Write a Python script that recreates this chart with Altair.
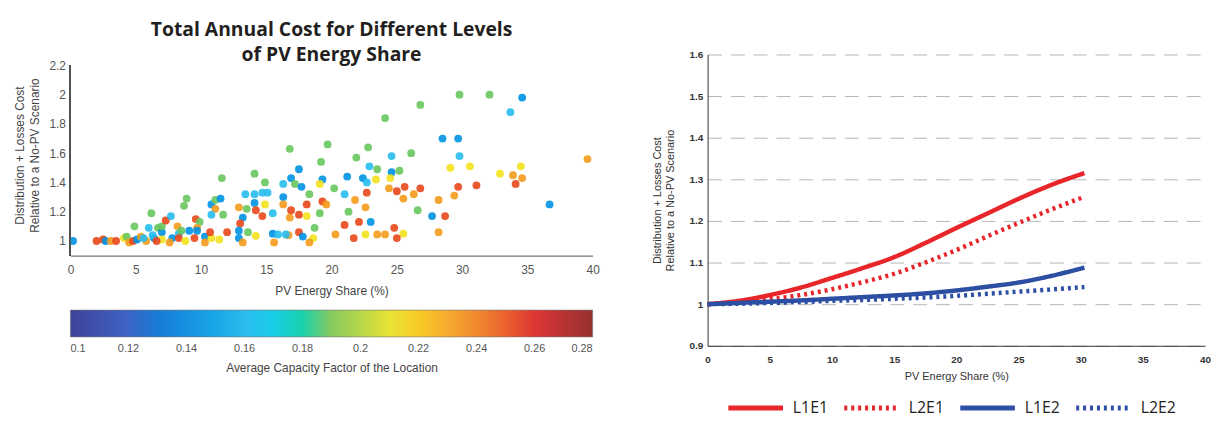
import altair as alt
import pandas as pd

# ---------------- Left panel: scatter (PV share vs. cost ratio, coloured by capacity factor)
B, C, G, Y, O, R = 0.145, 0.163, 0.188, 0.212, 0.232, 0.252

pv_share = [
    0.2, 2.0, 2.5, 2.7, 3.1, 3.5, 4.1, 4.3, 4.5, 4.8, 5.1, 5.4, 4.9, 5.8, 6.0, 6.2, 6.4, 6.7, 6.3, 7.0,
    7.0, 7.3, 7.7, 7.0, 7.8, 7.6, 8.2, 8.3, 8.5, 8.3, 8.8, 8.7, 8.9, 9.1, 9.6, 9.9, 9.7, 9.7, 9.5, 10.3,
    10.3, 10.8, 10.7, 10.8, 11.1, 11.5, 11.6, 11.1, 11.7, 10.8, 12.0, 11.4, 6.6, 5.6,
    12.9, 13.2, 13.0, 12.9, 13.5, 14.1, 13.4, 13.2, 14.1, 14.1, 14.2, 14.9, 14.7, 14.9, 14.7, 15.1,
    15.5, 15.6, 16.8, 16.3, 16.3, 16.9, 17.5, 17.2, 17.7, 18.3, 16.3, 16.9, 16.8, 17.5, 18.1, 18.1,
    16.7, 17.5, 17.8, 18.7, 18.6, 18.3, 15.5, 13.6, 14.2, 15.9, 16.5, 12.9,
    19.7, 22.8, 21.9, 19.2, 22.9, 23.5, 24.6, 26.1, 24.1, 26.8, 29.8, 32.1, 34.6, 33.7, 28.5, 29.7,
    29.8, 29.1, 30.6, 32.9, 34.5, 33.9, 34.6, 34.1, 39.6, 36.7, 31.1, 29.7, 29.4, 28.2, 26.8, 25.6,
    26.3, 25.5, 25.0, 24.4, 26.6, 27.7, 28.7, 28.2, 25.5, 25.0, 24.8, 24.1, 23.5, 22.6, 21.7, 20.3,
    22.1, 23.0, 21.0, 21.3, 21.8, 22.6, 22.7, 21.0, 21.2, 22.4, 22.7, 23.4, 24.6, 25.2, 24.5, 19.3,
    19.1, 20.2, 19.3, 19.6, 19.1,
]
cost_ratio = [
    1.00, 1.00, 1.01, 1.00, 1.00, 1.00, 1.02, 1.03, 0.99, 1.00, 1.01, 1.03, 1.10, 1.00, 1.09, 1.19, 1.02, 1.09, 1.04, 1.06,
    1.10, 1.14, 1.17, 1.01, 1.02, 0.99, 1.10, 1.05, 1.07, 1.02, 1.00, 1.24, 1.29, 1.07, 1.15, 1.13, 1.09, 1.07, 1.02, 1.03,
    0.99, 1.02, 1.06, 1.25, 1.28, 1.29, 1.43, 1.22, 1.18, 1.18, 1.06, 1.01, 1.00, 1.02,
    1.02, 1.16, 1.12, 1.23, 1.22, 1.46, 1.32, 0.99, 1.32, 1.26, 1.21, 1.25, 1.17, 1.40, 1.33, 1.33,
    1.05, 0.99, 1.63, 1.30, 1.39, 1.43, 1.49, 1.39, 1.37, 1.32, 1.25, 1.21, 1.16, 1.18, 1.25, 1.17,
    1.04, 1.06, 1.03, 1.09, 1.02, 0.99, 1.19, 1.06, 1.035, 1.045, 1.045, 1.07,
    1.66, 1.64, 1.57, 1.54, 1.51, 1.49, 1.58, 1.60, 1.84, 1.93, 2.00, 2.00, 1.98, 1.88, 1.70, 1.70,
    1.58, 1.50, 1.51, 1.46, 1.51, 1.45, 1.43, 1.39, 1.56, 1.25, 1.38, 1.37, 1.31, 1.28, 1.36, 1.37,
    1.32, 1.29, 1.34, 1.36, 1.21, 1.17, 1.17, 1.06, 1.05, 1.02, 1.09, 1.045, 1.045, 1.045, 1.02, 1.045,
    1.13, 1.13, 1.11, 1.20, 1.28, 1.23, 1.33, 1.32, 1.44, 1.43, 1.40, 1.42, 1.47, 1.48, 1.43, 1.42,
    1.39, 1.36, 1.27, 1.25, 1.19,
]
cap_factor = [
    B, R, R, B, O, R, Y, G, O, R, B, O, G, O, C, G, B, G, C, B,
    G, R, C, Y, B, O, O, C, G, R, Y, G, G, B, R, G, O, B, R, B,
    O, Y, R, B, G, B, G, O, G, C, R, Y, R, C,
    B, B, R, O, G, G, C, O, C, B, R, Y, R, G, C, C,
    B, O, G, B, C, B, B, G, B, G, O, R, O, R, R, Y,
    O, R, B, G, Y, O, C, G, Y, C, C, B,
    G, G, G, G, C, G, C, G, G, G, G, G, B, C, B, B,
    C, Y, Y, Y, Y, O, O, R, O, B, R, R, O, O, R, R,
    O, O, R, O, G, B, R, O, Y, R, R, O, O, Y, R, O,
    R, B, R, G, O, O, R, C, B, B, C, Y, B, G, Y, B,
    Y, G, R, O, G,
]

left_y_ticks = [1, 1.2, 1.4, 1.6, 1.8, 2, 2.2]
x_ticks = [0, 5, 10, 15, 20, 25, 30, 35, 40]
cf_ticks = [0.1, 0.12, 0.14, 0.16, 0.18, 0.2, 0.22, 0.24, 0.26, 0.28]
jet_stops = [0.1, 0.1225, 0.1675, 0.19, 0.2125, 0.235, 0.2575, 0.28]
jet_colors = ["#2a2f8e", "#2559c6", "#3ec6ef", "#7cc44c", "#f6e21c", "#f2901f", "#e3221e", "#8c1a1a"]

# ---------------- Right panel: cost curves
curve_share = [0, 2.5, 5, 7.5, 10, 12.5, 15, 17.5, 20, 22.5, 25, 27.5, 30.3]
l1e1 = [1.0, 1.008, 1.022, 1.040, 1.063, 1.087, 1.113, 1.147, 1.183, 1.218, 1.253, 1.285, 1.315]
l2e1 = [1.0, 1.004, 1.012, 1.022, 1.036, 1.053, 1.073, 1.100, 1.130, 1.163, 1.195, 1.226, 1.258]
l1e2 = [1.0, 1.003, 1.006, 1.009, 1.013, 1.017, 1.021, 1.026, 1.033, 1.042, 1.052, 1.067, 1.088]
l2e2 = [1.0, 1.001, 1.003, 1.005, 1.008, 1.010, 1.013, 1.016, 1.020, 1.025, 1.030, 1.035, 1.041]
right_y_ticks = [0.9, 1.0, 1.1, 1.2, 1.3, 1.4, 1.5, 1.6]
series_names = ["L1E1", "L2E1", "L1E2", "L2E2"]
series_colors = ["#e8262a", "#e8262a", "#2d4fa3", "#2d4fa3"]

df_s = pd.DataFrame({"pv": pv_share, "cost": cost_ratio, "cf": cap_factor})
rows = []
for name, vals in zip(series_names, [l1e1, l2e1, l1e2, l2e2]):
    for xv, yv in zip(curve_share, vals):
        rows.append({"series": name, "pv": xv, "cost": yv})
df_l = pd.DataFrame(rows)

y_title = ["Distribution + Losses Cost", "Relative to a No-PV Scenario"]

# left y scale runs a little above 2.2 so both plot areas can share one top edge
left_x_scale = alt.Scale(domain=[0, 40], nice=False)
left_y_scale = alt.Scale(domain=[0.9, 2.2745], nice=False, zero=False)

left_x_axis = alt.Axis(values=x_ticks, title="PV Energy Share (%)", grid=False, ticks=False,
                       labelFlush=False, labelPadding=9, titlePadding=10, labelFontSize=12,
                       titleFontSize=12, titleFontWeight="normal", labelColor="#555",
                       titleColor="#444", domainColor="#555", labelFont="Liberation Sans",
                       titleFont="Liberation Sans")
left_y_axis = alt.Axis(values=left_y_ticks, format="~g", title=y_title, domain=False,
                       labelOverlap=False, grid=False, ticks=False, labelPadding=5,
                       titlePadding=8, labelFontSize=12, titleFontSize=12, titleLineHeight=15,
                       titleFontWeight="normal", labelColor="#555", titleColor="#444",
                       labelFont="Liberation Sans", titleFont="Liberation Sans")

points = alt.Chart(df_s).mark_circle(size=62, opacity=0.9).encode(
    x=alt.X("pv:Q", scale=left_x_scale, axis=left_x_axis),
    y=alt.Y("cost:Q", scale=left_y_scale, axis=left_y_axis),
    color=alt.Color("cf:Q", scale=alt.Scale(domain=jet_stops, range=jet_colors),
                    legend=alt.Legend(orient="none", legendX=0, legendY=258, direction="horizontal",
                                      gradientLength=527, gradientThickness=27, values=cf_ticks,
                                      format="~g", title="Average Capacity Factor of the Location",
                                      titleLimit=600, titleOrient="bottom", titleAnchor="middle",
                                      labelFontSize=11, titleFontSize=12, titleFontWeight="normal",
                                      labelOverlap=False, labelColor="#555", titleColor="#444",
                                      labelOffset=6, titlePadding=9, gradientStrokeColor="#666",
                                      gradientStrokeWidth=0.6, labelFont="Liberation Sans",
                                      titleFont="Liberation Sans")),
)

y_axis_line = alt.Chart(df_s).mark_rule(color="#555", strokeWidth=1).encode(
    x=alt.XDatum(0, scale=left_x_scale, axis=left_x_axis),
    y=alt.YDatum(left_y_ticks[0] - 0.1, scale=left_y_scale, axis=left_y_axis),
    y2=alt.Y2Datum(left_y_ticks[-1]),
)

scatter = alt.layer(points, y_axis_line).properties(
    width=527, height=203,
    title=alt.TitleParams(["Total Annual Cost for Different Levels", "of PV Energy Share"],
                          font="Open Sans", fontSize=19.5, fontWeight="bold", lineHeight=25,
                          color="#231f20", anchor="middle", offset=-11),
)

lines = alt.Chart(df_l).mark_line(interpolate="monotone", strokeWidth=4.5).encode(
    x=alt.X("pv:Q", scale=alt.Scale(domain=[0, 40], nice=False),
            axis=alt.Axis(values=x_ticks, title="PV Energy Share (%)", grid=False,
                          ticks=False, labelFlush=False, labelPadding=9, titlePadding=6,
                          labelFontSize=10, labelFontWeight="bold", titleFontSize=11,
                          titleFontWeight="normal", labelColor="#333", titleColor="#333",
                          domainColor="#333", labelFont="Liberation Sans",
                          titleFont="Liberation Sans")),
    y=alt.Y("cost:Q", scale=alt.Scale(domain=[0.9, 1.6], nice=False, zero=False),
            axis=alt.Axis(values=right_y_ticks, format="~g", title=y_title,
                          grid=True, gridDash=[14, 9], gridColor="#b5b5b5", gridWidth=1,
                          ticks=False, labelPadding=5, titlePadding=14, labelFontSize=10,
                          labelFontWeight="bold", titleFontSize=11, titleLineHeight=13,
                          titleFontWeight="normal", labelColor="#333", titleColor="#333",
                          domainColor="#333", labelFont="Liberation Sans",
                          titleFont="Liberation Sans")),
    color=alt.Color("series:N", scale=alt.Scale(domain=series_names, range=series_colors),
                    sort=series_names,
                    legend=alt.Legend(orient="none", legendX=39, legendY=347, direction="horizontal",
                                      columns=4, title=None, symbolType="M-4,0H4", symbolSize=190,
                                      symbolStrokeWidth=5, labelFontSize=16, labelFont="Open Sans",
                                      labelColor="#231f20", labelOffset=28, columnPadding=5)),
    strokeDash=alt.StrokeDash("series:N", sort=series_names,
                              scale=alt.Scale(domain=series_names,
                                              range=[[1, 0], [3, 4], [1, 0], [3, 4]])),
).properties(width=502, height=294)

chart = alt.hconcat(scatter, lines, spacing=52).resolve_scale(
    color="independent", strokeDash="independent"
).resolve_legend(color="independent", strokeDash="independent").properties(
    padding={"left": 5, "top": 10, "right": 0, "bottom": 0}
).configure_view(strokeWidth=0).configure_legend(gradientHorizontalMaxLength=600)

chart.save("out.html", embed_options={"renderer": "svg", "actions": False})
